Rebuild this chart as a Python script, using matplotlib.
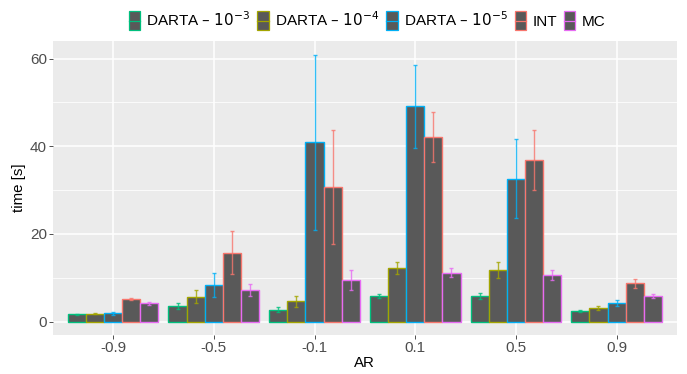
import numpy as np
import matplotlib.pyplot as plt
from matplotlib.patches import Patch, Rectangle
from matplotlib.lines import Line2D
from matplotlib.legend_handler import HandlerBase

plt.rcParams['font.family'] = ['Liberation Sans', 'DejaVu Sans']

# mean run time and error half-width per AR value
ar_values = ['-0.9', '-0.5', '-0.1', '0.1', '0.5', '0.9']
methods = ['DARTA – $10^{-3}$', 'DARTA – $10^{-4}$', 'DARTA – $10^{-5}$', 'INT', 'MC']
colors = ['#00BF7D', '#A3A500', '#00B0F6', '#F8766D', '#E76BF3']

darta3 = [1.7, 3.6, 2.7, 5.9, 5.8, 2.35]
darta4 = [1.8, 5.7, 4.6, 12.3, 11.8, 3.05]
darta5 = [1.9, 8.3, 40.9, 49.1, 32.6, 4.2]
int_t = [5.2, 15.7, 30.6, 42.1, 36.9, 8.75]
mc_t = [4.2, 7.2, 9.5, 11.2, 10.6, 5.85]

darta3_err = [0.1, 0.7, 0.57, 0.5, 0.7, 0.2]
darta4_err = [0.1, 1.55, 1.3, 1.33, 1.75, 0.45]
darta5_err = [0.3, 2.7, 20.0, 9.5, 9.0, 0.7]
int_err = [0.2, 4.9, 13.0, 5.6, 6.8, 1.0]
mc_err = [0.3, 1.3, 2.2, 0.95, 1.2, 0.5]

means = [darta3, darta4, darta5, int_t, mc_t]
errs = [darta3_err, darta4_err, darta5_err, int_err, mc_err]


class BarKeyHandler(HandlerBase):
    # dark box with coloured outline and a line through the middle
    def create_artists(self, legend, orig_handle, xdescent, ydescent,
                       width, height, fontsize, trans):
        c = orig_handle.get_edgecolor()
        rect = Rectangle((-xdescent, -ydescent), width, height,
                         facecolor='#595959', edgecolor=c, linewidth=0.9,
                         transform=trans)
        mid = -ydescent + height / 2
        line = Line2D([-xdescent, -xdescent + width], [mid, mid],
                      color=c, linewidth=0.9, transform=trans)
        return [rect, line]


fig = plt.figure(figsize=(6.87, 3.74), dpi=100)
ax = fig.add_axes([0.0767, 0.1043, 0.9088, 0.7861])
ax.set_facecolor('#EBEBEB')

x = np.arange(len(ar_values))
w = 0.18
for j, (m, e, c) in enumerate(zip(means, errs, colors)):
    pos = x + (j - 2) * w
    ax.bar(pos, m, width=w, color='#595959', edgecolor=c, linewidth=1.0, zorder=3)
    ax.errorbar(pos, m, yerr=e, fmt='none', ecolor=c, elinewidth=1.0,
                capsize=1.6, capthick=1.0, alpha=0.8, zorder=4)

ax.set_xlim(-0.6, len(ar_values) - 0.4)
ax.set_ylim(-3.05, 64.0)
ax.set_xticks(x)
ax.set_xticklabels(ar_values)
ax.set_yticks([0, 20, 40, 60])
ax.set_yticks([10, 30, 50], minor=True)

ax.grid(True, which='major', color='white', linewidth=1.1, zorder=0)
ax.grid(True, which='minor', axis='y', color='white', linewidth=0.55, zorder=0)
ax.set_axisbelow(True)
for s in ax.spines.values():
    s.set_visible(False)
ax.tick_params(axis='both', which='major', length=2.7, width=0.6, color='#333333',
               labelcolor='#4D4D4D', labelsize=11, pad=1.5)
ax.tick_params(axis='y', which='minor', length=0)

ax.set_xlabel('AR', fontsize=10.8, labelpad=1)
ax.set_ylabel('time [s]', fontsize=10.8, labelpad=3)

handles = [Patch(facecolor='#595959', edgecolor=c) for c in colors]
fig.legend(handles, methods, loc='upper center', bbox_to_anchor=(0.534, 1.0),
           ncol=5, frameon=False, fontsize=11,
           handler_map={Patch: BarKeyHandler()},
           handlelength=0.75, handleheight=1.55, handletextpad=0.4,
           columnspacing=0.45, borderaxespad=0.25)

fig.savefig('out.png', dpi=100)
